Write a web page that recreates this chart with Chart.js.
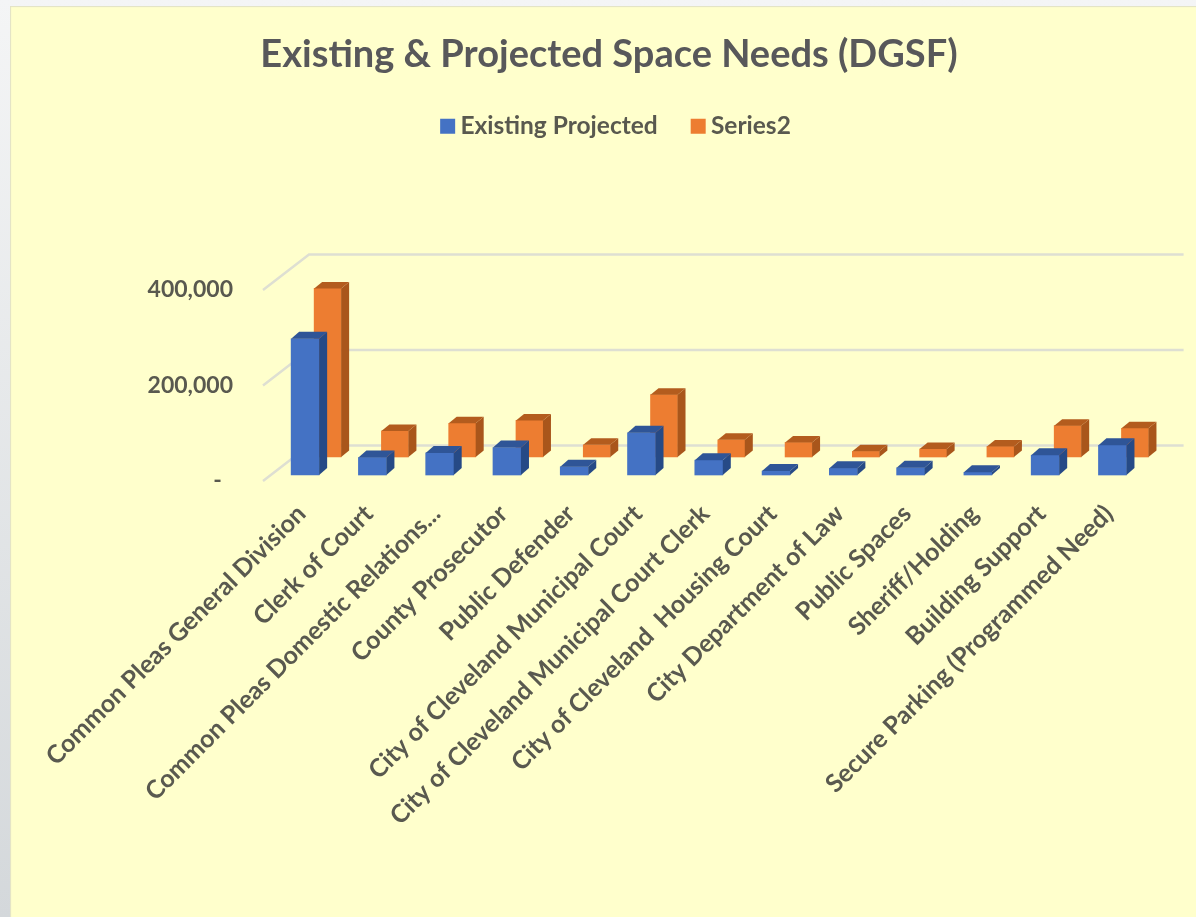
<!DOCTYPE html>
<html>
<head>
<meta charset="utf-8">
<title>Existing & Projected Space Needs (DGSF)</title>
<script src="https://cdn.jsdelivr.net/npm/chart.js@4/dist/chart.umd.min.js"></script>
<style>
html, body { margin: 0; height: 100%; overflow: hidden; }
body { background: linear-gradient(#f4f5f6, #d4d8db); }
#wrap { position: absolute; left: 10px; top: 6px; width: 1186px; height: 911px; background: #ffffcc; box-shadow: inset 1px 1px 1px #e2e2c6; }
</style>
</head>
<body>
<div id="wrap"><canvas id="spaceNeeds" width="1186" height="911"></canvas></div>
<script>
"use strict";
var categories = [
    "Common Pleas General Division", "Clerk of Court", "Common Pleas Domestic Relations...",
    "County Prosecutor", "Public Defender", "City of Cleveland Municipal Court",
    "City of Cleveland Municipal Court Clerk", "City of Cleveland  Housing Court",
    "City Department of Law", "Public Spaces", "Sheriff/Holding", "Building Support",
    "Secure Parking (Programmed Need)"
];
var existing = [ 285400, 36700, 46200, 57400, 17200, 88500, 31100, 8300, 13900, 15100, 5600, 41500, 62200 ];
var projected = [ 353000, 54500, 70500, 76700, 25500, 130600, 35900, 30500, 11800, 16600, 22200, 65700, 60100 ];
var yTicks = [ 0, 200000, 400000 ];

var textColor = "#59594f";
var fontName = "Lato, Carlito, sans-serif";

// each series sits at its own depth: shift, then side and top faces
var depth = [
    { dx: 8.5, dy: -6, sideX: 8, sideY: 7, top: "#2f5597", side: "#264a86" },
    { dx: 31, dy: -24, sideX: 8, sideY: 6.5, top: "#b35c1e", side: "#a9561b" }
];

var wallPlugin = {
    id: "wall",
    beforeDatasetsDraw: function (chart) {
        var ctx = chart.ctx, y = chart.scales.y, area = chart.chartArea;
        ctx.save();
        ctx.strokeStyle = "#dedfd2";
        ctx.lineWidth = 2.5;
        y.ticks.forEach(function (t) {
            var py = y.getPixelForValue(t.value);
            ctx.beginPath();
            ctx.moveTo(area.left, py);
            ctx.lineTo(area.left + 46, py - 35.5);
            ctx.lineTo(area.right + 46, py - 35.5);
            ctx.stroke();
        });
        ctx.restore();
    }
};

var boxPlugin = {
    id: "box3d",
    beforeDatasetDraw: function (chart, args) {
        var d = depth[args.index];
        chart.ctx.save();
        chart.ctx.translate(d.dx, d.dy);
    },
    afterDatasetDraw: function (chart, args) {
        var ctx = chart.ctx, d = depth[args.index];
        args.meta.data.forEach(function (bar) {
            var p = bar.getProps([ "x", "y", "base", "width" ], true);
            var l = p.x - p.width / 2, r = p.x + p.width / 2;
            ctx.fillStyle = d.side;
            ctx.beginPath();
            ctx.moveTo(r, p.base);
            ctx.lineTo(r + d.sideX, p.base - d.sideY);
            ctx.lineTo(r + d.sideX, p.y - d.sideY);
            ctx.lineTo(r, p.y);
            ctx.closePath();
            ctx.fill();
            ctx.fillStyle = d.top;
            ctx.beginPath();
            ctx.moveTo(l, p.y);
            ctx.lineTo(l + d.sideX, p.y - d.sideY);
            ctx.lineTo(r + d.sideX, p.y - d.sideY);
            ctx.lineTo(r, p.y);
            ctx.closePath();
            ctx.fill();
        });
        ctx.restore();
    },
    afterLayout: function (chart) {
        chart.legend.left += 10;
        chart.legend.right += 10;
    }
};

new Chart(document.getElementById("spaceNeeds"), {
    type   : "bar",
    data   : {
        labels  : categories,
        datasets: [
            { label: "Existing Projected", data: existing, backgroundColor: "#4472c4", barThickness: 28, clip: false },
            { label: "Series2", data: projected, backgroundColor: "#ed7d31", barThickness: 27, clip: false }
        ]
    },
    plugins: [ wallPlugin, boxPlugin ],
    options: {
        responsive: false,
        animation : false,
        layout    : { padding: { left: 70.4, right: 58.4 } },
        datasets  : { bar: { grouped: false } },
        scales    : {
            x: {
                grid   : { display: false },
                border : { display: false },
                ticks  : {
                    autoSkip   : false,
                    minRotation: 45,
                    maxRotation: 45,
                    padding    : 10,
                    labelOffset: 5,
                    color      : textColor,
                    font       : { family: fontName, size: 25, weight: "bold" }
                },
                afterFit: function (s) { s.height = 436; }
            },
            y: {
                min   : 0,
                max   : 400000,
                grid  : { display: false },
                border: { display: false },
                afterBuildTicks: function (s) {
                    s.ticks = yTicks.map(function (v) { return { value: v }; });
                },
                ticks : {
                    color   : textColor,
                    padding : 22,
                    font    : { family: fontName, size: 23, weight: "bold" },
                    callback: function (v) { return v === 0 ? "-  " : v.toLocaleString("en-US"); }
                },
                afterFit: function (s) { s.width = 182.6; }
            }
        },
        plugins   : {
            title   : {
                display: true,
                text   : "Existing & Projected Space Needs (DGSF)",
                color  : "#58585a",
                font   : { family: fontName, size: 38, weight: "bold", lineHeight: 1 },
                padding: { top: 30, bottom: 0 }
            },
            subtitle: {
                display: true,
                text   : "",
                weight : 500,
                font   : { size: 10, lineHeight: 1.2 },
                padding: { top: 0, bottom: 129.5 }
            },
            legend  : {
                position: "top",
                labels  : {
                    usePointStyle: true,
                    pointStyle   : "rect",
                    boxWidth     : 1,
                    boxHeight    : 15,
                    padding      : 40,
                    color        : textColor,
                    font         : { family: fontName, size: 24.5, weight: "bold", lineHeight: 1.143 }
                }
            },
            tooltip : { enabled: false }
        }
    }
});
</script>
</body>
</html>
